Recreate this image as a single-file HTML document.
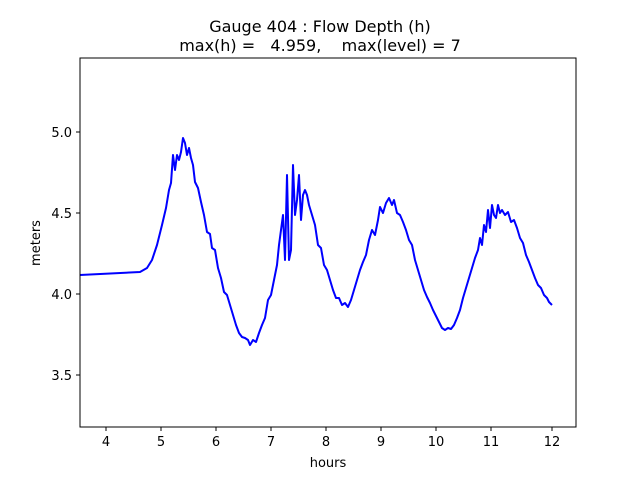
<!DOCTYPE html>
<html><head><meta charset="utf-8"><style>
html,body{margin:0;padding:0;background:#fff;}
svg text{font-family:"DejaVu Sans","Liberation Sans",sans-serif;fill:#000;}
</style></head><body>
<svg width="640" height="480" viewBox="0 0 640 480" xmlns="http://www.w3.org/2000/svg">
<rect width="640" height="480" fill="#fff"/>
<text x="320" y="32" font-size="16" text-anchor="middle">Gauge 404 : Flow Depth (h)</text>
<text x="320" y="51" font-size="16" text-anchor="middle" xml:space="preserve">max(h) =   4.959,    max(level) = 7</text>
<polyline fill="none" stroke="#0000ff" stroke-width="2" stroke-linejoin="round" points="80,275 140,272 147,268 152,260 157,245 162,225 166,208 169,190 171,183 173,155 175,170 177,155 179,160 181,152 183,138 185,143 187,155 189,148 191,158 193,165 195,182 198,188 201,202 204,215 207,232 210,234 212,248 215,250 218,268 221,278 224,292 227,295 230,305 233,315 236,325 239,333 242,337 245,338 248,340 250,345 253,340 256,342 259,333 262,325 265,318 268,300 271,295 274,280 277,265 279,245 281,230 283,215 285,260 287,175 289,260 291,250 293,165 295,215 297,200 299,175 301,220 303,195 305,190 307,195 309,205 312,215 315,225 318,245 321,248 324,265 327,270 330,280 333,290 336,298 339,298 342,305 345,303 348,307 351,300 354,290 357,280 360,270 363,262 366,255 369,240 372,230 375,235 378,220 380,207 383,213 386,203 389,198 392,205 394,200 397,213 400,215 403,222 406,230 409,240 412,245 415,260 418,270 421,280 424,290 427,297 430,303 433,310 436,316 439,322 442,328 445,330 448,328 451,329 454,325 457,318 460,310 463,298 466,288 469,278 472,268 475,258 478,250 480,238 482,245 484,225 486,232 488,210 490,228 492,205 494,215 496,218 498,205 500,213 502,210 505,215 508,212 511,222 514,220 517,228 520,238 523,243 526,255 529,262 532,270 535,278 538,285 541,288 544,295 547,298 549,302 552,305"/>
<rect x="80" y="58" width="496" height="369" fill="none" stroke="#000" stroke-width="1"/>
<g stroke="#000" stroke-width="1">
<line x1="106" y1="427" x2="106" y2="431"/><line x1="161" y1="427" x2="161" y2="431"/><line x1="216" y1="427" x2="216" y2="431"/><line x1="271" y1="427" x2="271" y2="431"/><line x1="326" y1="427" x2="326" y2="431"/><line x1="381" y1="427" x2="381" y2="431"/><line x1="436" y1="427" x2="436" y2="431"/><line x1="491" y1="427" x2="491" y2="431"/><line x1="552" y1="427" x2="552" y2="431"/>
<line x1="76" y1="132" x2="80" y2="132"/><line x1="76" y1="213" x2="80" y2="213"/><line x1="76" y1="294" x2="80" y2="294"/><line x1="76" y1="375" x2="80" y2="375"/>
</g>
<g font-size="13" text-anchor="middle">
<text x="106" y="446">4</text><text x="161" y="446">5</text><text x="216" y="446">6</text><text x="271" y="446">7</text><text x="326" y="446">8</text><text x="381" y="446">9</text><text x="436" y="446">10</text><text x="491" y="446">11</text><text x="552" y="446">12</text>
<text x="328" y="467">hours</text>
</g>
<g font-size="13" text-anchor="end">
<text x="72" y="137">5.0</text><text x="72" y="218">4.5</text><text x="72" y="299">4.0</text><text x="72" y="380">3.5</text>
</g>
<text x="40" y="243" font-size="13" text-anchor="middle" transform="rotate(-90 40 243)">meters</text>
</svg>
</body></html>
